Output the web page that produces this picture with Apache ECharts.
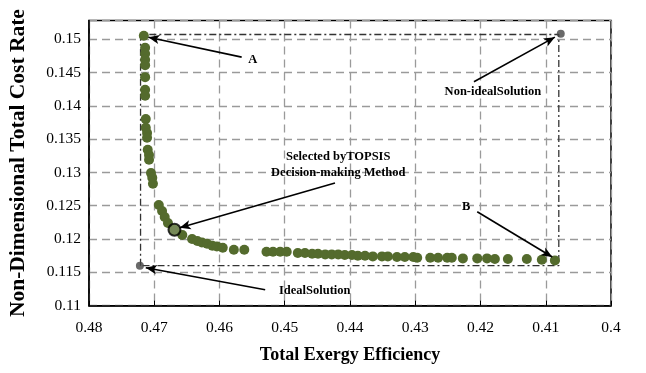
<!DOCTYPE html>
<html><head><meta charset="utf-8">
<script src="https://cdn.jsdelivr.net/npm/echarts@6/dist/echarts.min.js"></script>
<style>html,body{margin:0;padding:0;background:#fff}#c{width:646px;height:373px}</style>
</head><body><div id="c"></div>
<script>
// Pareto front: total exergy efficiency (x) vs non-dimensional total cost rate (y)
const effX = [0.4716,0.4714,0.4714,0.4714,0.4714,0.4714,0.4714,0.4714,0.4713,0.4713,0.4711,0.4711,0.4710,0.4708,0.4708,0.4705,0.4703,0.4702,
  0.4693,0.4688,0.4684,0.4679,0.4657,0.4642,0.4634,0.4627,0.4619,0.4611,0.4604,0.4595,0.4578,0.4562,
  0.4528,0.4518,0.4507,0.4497,0.4480,0.4469,0.4458,0.4449,0.4438,0.4428,0.4418,0.4408,0.4397,0.4388,0.4377,0.4365,0.4351,0.4342,
  0.4328,0.4316,0.4303,0.4297,0.4277,0.4265,0.4251,0.4244,0.4227,0.4205,0.4190,0.4178,0.4158,0.4129,0.4106,0.4086];
const costY = [0.1505,0.1487,0.1478,0.1469,0.1461,0.1443,0.1424,0.1415,0.1380,0.1367,0.1359,0.1352,0.1334,0.1326,0.1319,0.1299,0.1292,0.1283,
  0.1251,0.1242,0.1233,0.1224,0.1206,0.1200,0.1197,0.1195,0.1193,0.1190,0.1189,0.1187,0.1184,0.1184,
  0.1181,0.1181,0.1181,0.1181,0.1179,0.1179,0.1178,0.1178,0.1177,0.1177,0.1177,0.1176,0.1176,0.1175,0.1175,0.1174,0.1174,0.1174,
  0.1173,0.1173,0.1173,0.1172,0.1172,0.1172,0.1172,0.1172,0.1171,0.1171,0.1171,0.1170,0.1170,0.1170,0.1169,0.1168];
const selectedPoint = [0.4669, 0.1214];
const idealPoint = [0.4722, 0.1160];
const nonIdealPoint = [0.4077, 0.1508];
const boxX = [0.4721, 0.4080];
const boxY = [0.1160, 0.1507];
const xTicks = {min: 0.40, max: 0.48, interval: 0.01};
const yTicks = {min: 0.11, max: 0.1528, interval: 0.005};
// annotations: [text, labelX, labelY, arrowFromX, arrowFromY, arrowToX, arrowToY]
const notes = [
  ['A', 0.4549, 0.1469, 0.4566, 0.1473, 0.4709, 0.1503],
  ['Non-idealSolution', 0.4181, 0.1421, 0.4210, 0.1436, 0.4086, 0.1503],
  ['Selected byTOPSIS\nDecision-making Method', 0.4418, 0.1311, 0.4423, 0.1284, 0.4661, 0.1217],
  ['B', 0.4222, 0.1248, 0.4205, 0.1241, 0.4090, 0.1173],
  ['IdealSolution', 0.4454, 0.1122, 0.4530, 0.1124, 0.4713, 0.1157]
];

const FONT = '"Liberation Serif", "Times New Roman", serif';
const GREEN = '#546B2D';
const chart = echarts.init(document.getElementById('c'), null, {renderer: 'canvas'});
const pts = effX.map((x, i) => [x, costY[i]]);
const boxData = [[boxX[0], boxY[0]], [boxX[0], boxY[1]], [boxX[1], boxY[1]], [boxX[1], boxY[0]], [boxX[0], boxY[0]]];
const gridLine = {show: true, lineStyle: {color: '#9a9a9a', width: 1.3, type: [8, 5]}};

chart.setOption({
  animation: false,
  grid: {left: 89, right: 35, top: 20.5, bottom: 67.3, show: true, borderColor: '#000', borderWidth: 1.5,
    containLabel: false, outerBoundsMode: 'none'},
  xAxis: {
    type: 'value', inverse: true, min: xTicks.min, max: xTicks.max, interval: xTicks.interval,
    name: 'Total Exergy Efficiency', nameLocation: 'middle', nameGap: 41,
    nameTextStyle: {fontFamily: FONT, fontWeight: 'bold', fontSize: 18, color: '#000'},
    axisLine: {show: true, lineStyle: {color: '#000', width: 1.5}},
    axisTick: {show: true, inside: true, length: 5, lineStyle: {color: '#000'}},
    axisLabel: {fontFamily: FONT, fontSize: 15.5, color: '#000', margin: 14,
      formatter: v => String(parseFloat(v.toFixed(3)))},
    splitLine: gridLine
  },
  yAxis: {
    type: 'value', min: yTicks.min, max: yTicks.max, interval: yTicks.interval,
    name: 'Non-Dimensional Total Cost Rate', nameLocation: 'middle', nameGap: 60,
    nameTextStyle: {fontFamily: FONT, fontWeight: 'bold', fontSize: 21.5, color: '#000'},
    axisLine: {show: true, lineStyle: {color: '#000', width: 1.5}},
    axisTick: {show: false},
    axisLabel: {fontFamily: FONT, fontSize: 15.5, color: '#000', margin: 8, showMaxLabel: false,
      formatter: v => {
        const k = Math.round(v / yTicks.interval);
        if (Math.abs(k * yTicks.interval - v) > 1e-6) return '';
        return String(parseFloat(v.toFixed(3)));
      }},
    splitLine: gridLine
  },
  series: [
    {
      type: 'line', data: boxData, symbol: 'none', silent: true, z: 2,
      lineStyle: {color: '#333', width: 1.3, type: [7, 3, 2, 3]}
    },
    {
      type: 'scatter', data: pts, symbol: 'circle', symbolSize: 10, z: 3,
      itemStyle: {color: GREEN, opacity: 1}
    },
    {
      type: 'scatter', data: [selectedPoint], symbolSize: 12, z: 4,
      itemStyle: {color: GREEN, borderColor: '#000', borderWidth: 2}
    },
    {
      type: 'scatter', data: [idealPoint, nonIdealPoint], symbolSize: 8, z: 4,
      itemStyle: {color: '#444'}
    },
    {
      type: 'scatter', data: [], z: 5,
      markLine: {
        silent: true, symbol: ['none', 'arrow'], symbolSize: [7, 11],
        lineStyle: {color: '#000', width: 1.6, type: 'solid'},
        label: {show: false},
        data: notes.map(n => [{coord: [n[3], n[4]]}, {coord: [n[5], n[6]]}])
      },
      markPoint: {
        silent: true, symbol: 'circle', symbolSize: 0,
        label: {show: true, position: 'inside', fontFamily: FONT, fontWeight: 'bold', fontSize: 12.5,
          color: '#000', lineHeight: 16, align: 'center'},
        data: notes.map(n => ({coord: [n[1], n[2]], value: n[0], label: {formatter: n[0]}}))
      }
    }
  ]
});
</script></body></html>
